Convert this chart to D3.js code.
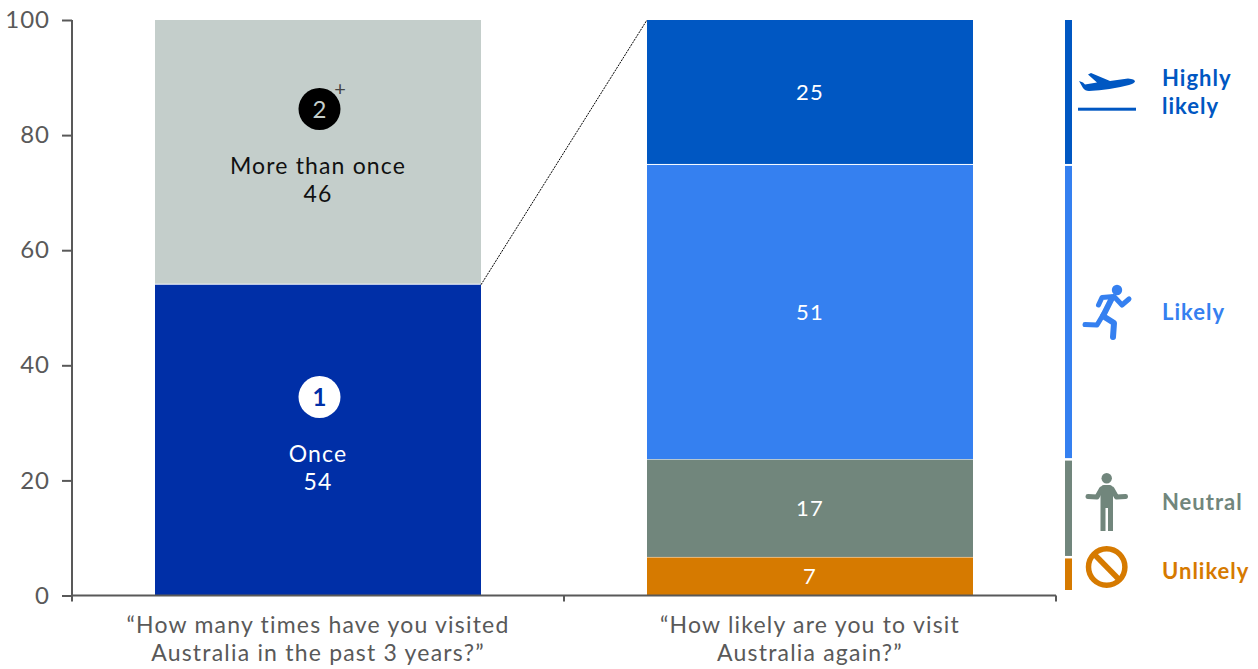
<!DOCTYPE html>
<html><head><meta charset="utf-8">
<script src="https://cdn.jsdelivr.net/npm/d3@7/dist/d3.min.js"></script>
<style>
html,body{margin:0;padding:0;background:#fff;overflow:hidden}
text{font-family:Lato,"Open Sans",sans-serif}
</style></head><body>
<svg id="c" width="1258" height="669"></svg>
<script>
const categories=["q1","q2"];
const questionLabels=[["“How many times have you visited","Australia in the past 3 years?”"],["“How likely are you to visit","Australia again?”"]];
const visitNames=["Once","More than once"];
const visitValues=[54,46];
const visitColors=["#002FA7","#C4CECB"];
const likelyNames=["Unlikely","Neutral","Likely","Highly likely"];
const likelyValues=[6.7,17,51.2,25.1];
const likelyColors=["#D67A00","#71867C","#3580F0","#0057C2"];
const yTicks=[0,20,40,60,80,100];

const svg=d3.select("#c");
const y=d3.scaleLinear().domain([0,100]).range([595.5,20]);
const x=d3.scaleBand().domain(categories).range([72,1056]).paddingInner(0).paddingOuter(0);
const inset=83, bw=x.bandwidth()-2*inset;
const bx=c=>x(c)+inset;
const stack=v=>{let s=0;return v.map(d=>{const r=[s,s+d];s+=d;return r;});};
const sv=stack(visitValues), sl=stack(likelyValues);
const fmt=d3.format(".0f");

// bars
svg.selectAll(".v").data(sv).join("rect").attr("x",bx("q1")).attr("width",bw)
 .attr("y",d=>y(d[1])).attr("height",d=>y(d[0])-y(d[1])-(d[0]==0?0:1)).attr("fill",(d,i)=>visitColors[i]);
svg.selectAll(".l").data(sl).join("rect").attr("x",bx("q2")).attr("width",bw)
 .attr("y",d=>y(d[1])+(d[1]>=99.9?0:0.5)).attr("height",d=>y(d[0])-y(d[1])-(d[0]==0?0.5:0.5)).attr("fill",(d,i)=>likelyColors[i]);

// connector
svg.append("line").attr("x1",bx("q1")+bw).attr("y1",y(visitValues[0])).attr("x2",bx("q2")).attr("y2",y(100))
 .attr("stroke","#000").attr("stroke-width",1).attr("stroke-dasharray","2 1");

// axes
const ya=d3.axisLeft(y).tickValues(yTicks).tickSize(10).tickPadding(12);
const gy=svg.append("g").attr("transform","translate(72,0)").call(ya);
gy.select(".domain").attr("d","M0,20V601");
const gx=svg.append("g").attr("transform","translate(0,595.5)");
gx.append("path").attr("d",`M${x.range()[0]},0H${x.range()[1]}`);
[...categories,"end"].forEach((c,i)=>{
  const px=i<2?x(c):x.range()[1];
  gx.append("line").attr("x1",px).attr("x2",px).attr("y1",0).attr("y2",6).attr("stroke","#595959").attr("stroke-width",2);
});
gx.select("path").attr("stroke","#595959").attr("stroke-width",2).attr("fill","none");
gy.selectAll("path,line").attr("stroke","#595959").attr("stroke-width",2);
gy.selectAll("text").attr("font-size",24).attr("fill","#595959").attr("letter-spacing",1).style("font-family","Lato");

// question labels
questionLabels.forEach((ls,i)=>ls.forEach((t,j)=>{
  svg.append("text").attr("x",x(categories[i])+x.bandwidth()/2).attr("y",633+j*28).attr("text-anchor","middle")
   .attr("font-size",23).attr("letter-spacing",1.2).attr("fill","#595959").text(t);
}));

// left labels
const tl=(x0,yy,t,fill,size=23)=>svg.append("text").attr("x",x0).attr("y",yy).attr("text-anchor","middle")
  .attr("font-size",size).attr("letter-spacing",1.15).attr("fill",fill).text(t);
const cx=bx("q1")+bw/2;
svg.append("circle").attr("cx",319.5).attr("cy",397).attr("r",21).attr("fill","#fff");
tl(320,405.5,"1","#002FA7",24).attr("font-weight",700);
tl(cx,462,visitNames[0],"#fff"); tl(cx,490,visitValues[0],"#fff");
svg.append("circle").attr("cx",319.5).attr("cy",109).attr("r",21).attr("fill","#000");
tl(320,117.5,"2","#C4CECB",24);
tl(340.5,96,"+","#444",20);
tl(cx,174,visitNames[1],"#111"); tl(cx,202,visitValues[1],"#111");

// right bar value labels
sl.forEach((d,i)=>{
  tl(bx("q2")+bw/2,y((d[0]+d[1])/2)+8,fmt(likelyValues[i]),"#fff",22);
});

// side bars
const sideBottom=[5.5,1,1,0.5];
svg.selectAll(".s").data(sl).join("rect").attr("x",1065).attr("width",7)
 .attr("y",d=>y(d[1])+(d[1]>=99.9?0:1.5)).attr("height",(d,i)=>y(d[0])-y(d[1])-(d[1]>=99.9?0:1.5)-sideBottom[i]).attr("fill",(d,i)=>likelyColors[i]);

// side labels
const sideLabels=[[["Unlikely"],579],[["Neutral"],510],[["Likely"],320],[["Highly","likely"],86]];
sideLabels.forEach((d,i)=>d[0].forEach((t,j)=>{
  svg.append("text").attr("x",1162).attr("y",d[1]+j*28).attr("font-size",22).attr("font-weight",700).attr("letter-spacing",1)
   .attr("fill",likelyColors[i]).text(t);
}));

// icons
const plane=svg.append("g").attr("fill",likelyColors[3]);
plane.append("path").attr("d","M1079,81L1083,82.5L1085,84.5L1097,82.5L1088,74.5L1091,73L1110,81L1128,78.5Q1135,79 1135,81.5Q1134,83.5 1129,85Q1110,90 1089,91Q1085,91 1083,88Z");
plane.append("rect").attr("x",1078).attr("y",107.7).attr("width",58).attr("height",3);
const run=svg.append("g").attr("fill","none").attr("stroke",likelyColors[2]).attr("stroke-width",5).attr("stroke-linecap","round").attr("stroke-linejoin","round");
run.append("path").attr("d","M1098.5,305L1102,297.5L1114,296.5L1122,305L1129,299");
run.append("path").attr("d","M1112,298L1103,316L1114,323L1113,337").attr("stroke-width",6);
run.append("path").attr("d","M1103,315L1097,325L1085,324.5");
svg.append("circle").attr("cx",1117).attr("cy",290).attr("r",5.2).attr("fill",likelyColors[2]);
const neu=svg.append("g").attr("fill",likelyColors[1]);
neu.append("circle").attr("cx",1106.7).attr("cy",478.3).attr("r",5.2);
neu.append("path").attr("d","M1100.5,490Q1100.5,485 1104,485H1109.5Q1113,485 1113,490V531H1108V508H1105.5V531H1100.5Z");
neu.append("path").attr("d","M1088,496.5L1097,497L1101.5,489M1125.5,496.5L1116.5,497L1112,489").attr("fill","none").attr("stroke",likelyColors[1]).attr("stroke-width",5).attr("stroke-linecap","round").attr("stroke-linejoin","round");
const no=svg.append("g").attr("fill","none").attr("stroke",likelyColors[0]).attr("stroke-width",5.5);
no.append("circle").attr("cx",1106.7).attr("cy",567).attr("r",18.2);
no.append("line").attr("x1",1094).attr("y1",554).attr("x2",1119.5).attr("y2",580);
</script></body></html>
